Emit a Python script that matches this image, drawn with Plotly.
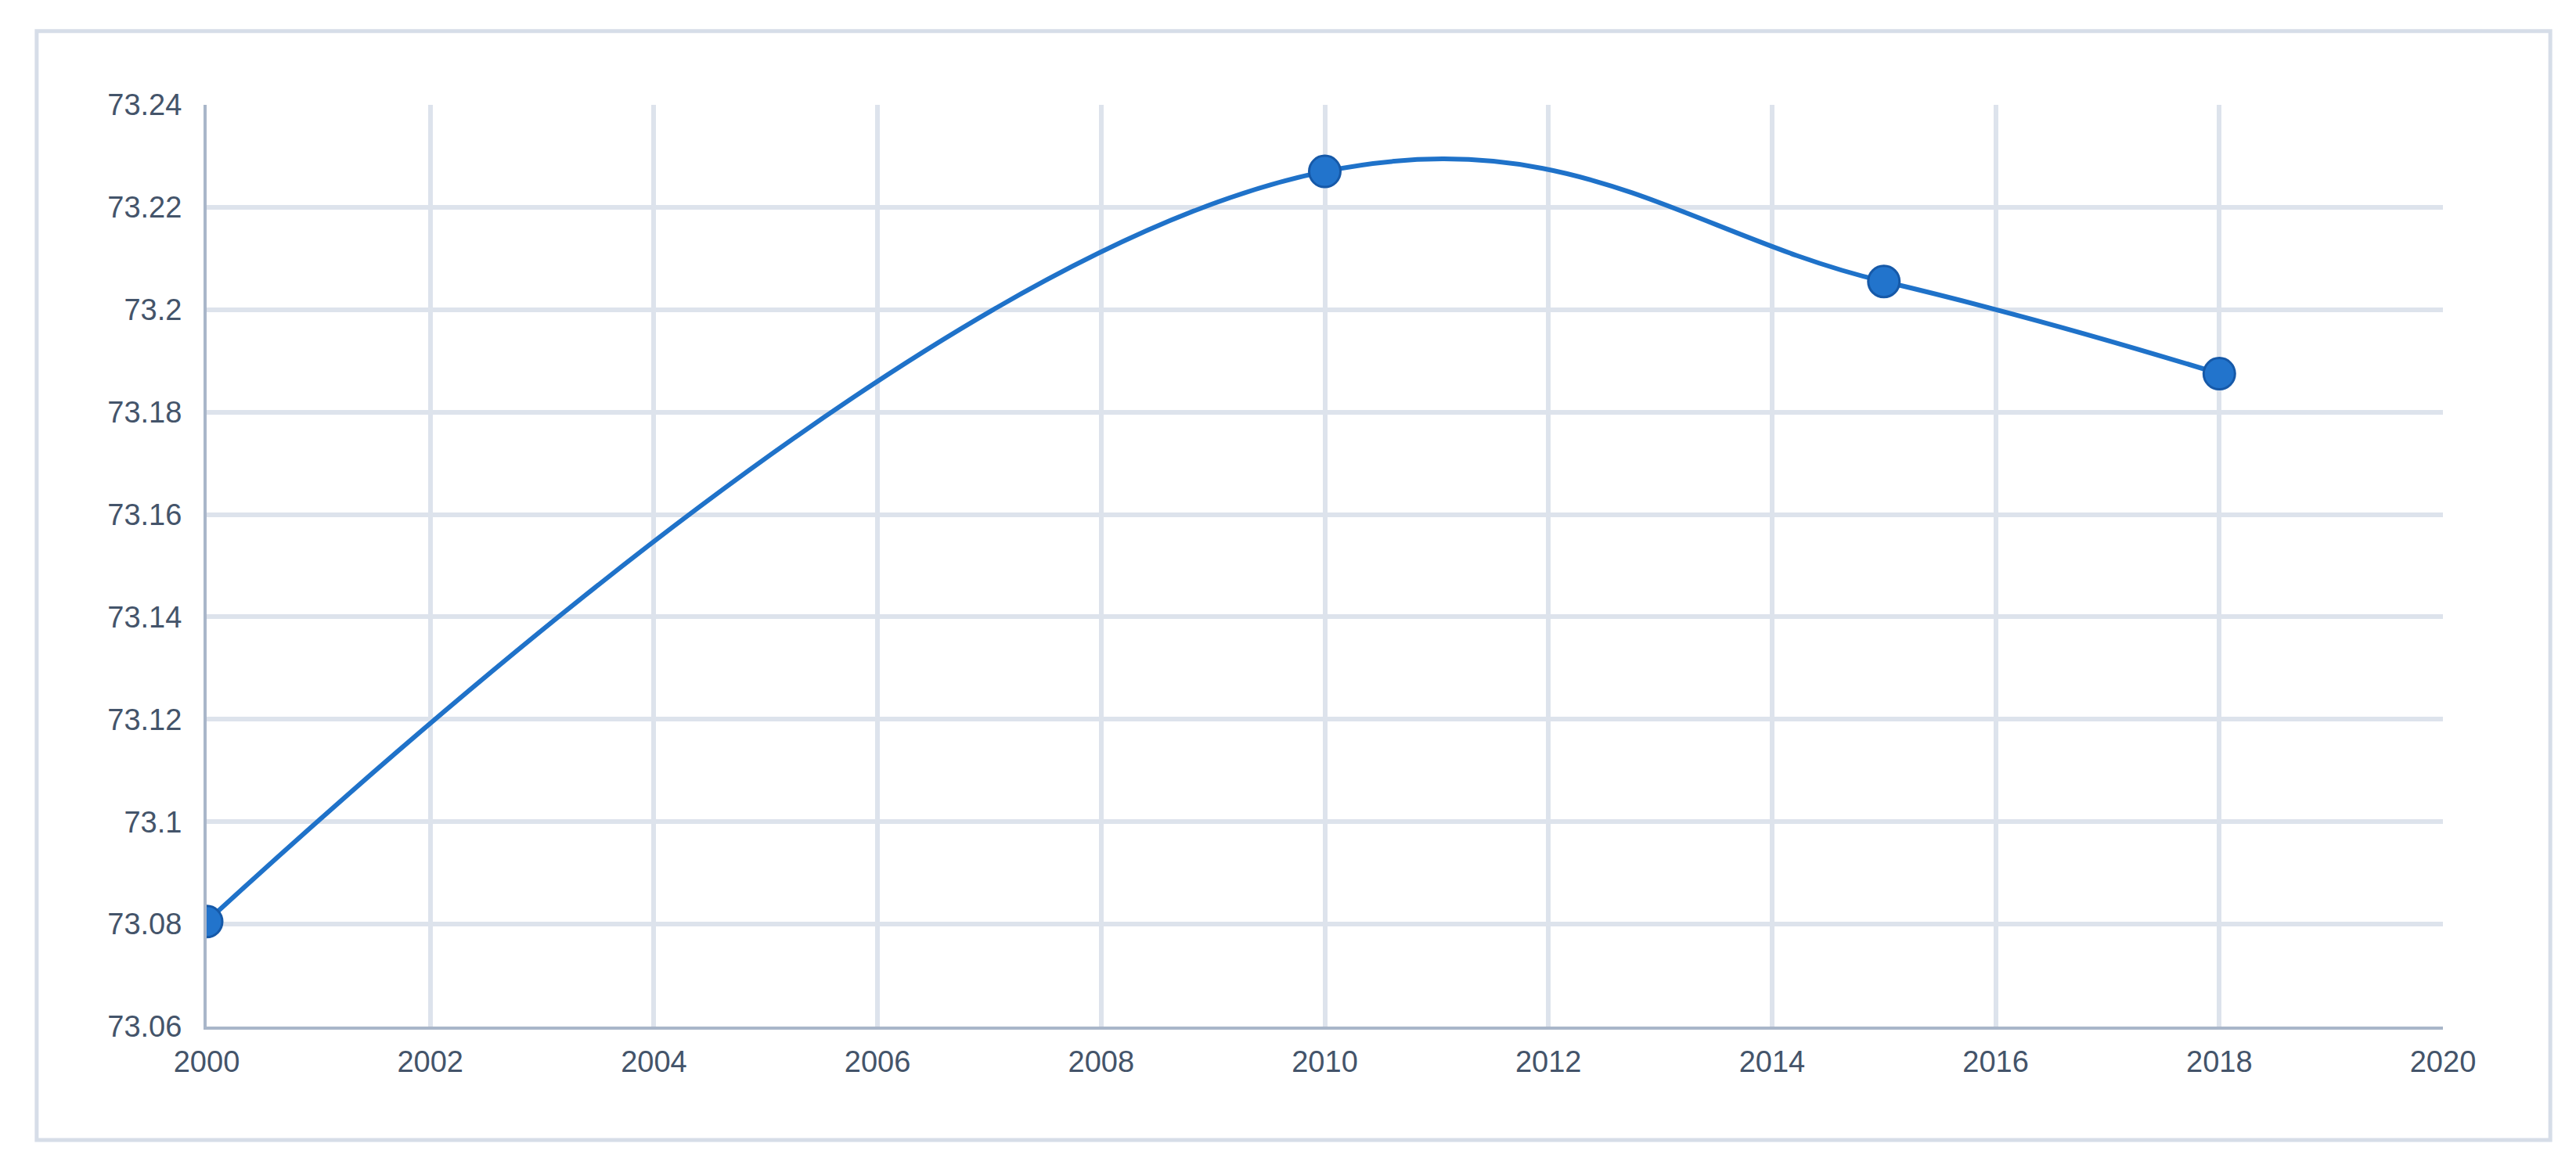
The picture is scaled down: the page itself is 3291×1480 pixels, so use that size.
import plotly.graph_objects as go

years = [2000, 2010, 2015, 2018]
values = [73.0805, 73.227, 73.2055, 73.1875]
x_ticks = list(range(2000, 2021, 2))
y_ticks = [73.06, 73.08, 73.1, 73.12, 73.14, 73.16, 73.18, 73.2, 73.22, 73.24]

fig = go.Figure()
fig.add_trace(go.Scatter(
    x=years, y=values, mode="lines+markers",
    line=dict(color="#1f72c9", width=6, shape="spline", smoothing=1.2),
    marker=dict(size=40, color="#2274cc", line=dict(color="#1659a8", width=3)),
))
font = dict(family="Liberation Sans", size=38, color="#44546a")
fig.update_layout(
    width=3291, height=1480, paper_bgcolor="white", plot_bgcolor="white",
    margin=dict(l=256, r=178, t=126, b=176),
    showlegend=False, font=font,
    shapes=[dict(type="rect", xref="paper", yref="paper", x0=-0.076, x1=1.048, y0=-0.123, y1=1.08,
                 line=dict(color="#d6dde8", width=5))],
)
fig.update_xaxes(range=[2000, 2020], tickvals=x_ticks, showgrid=True, gridcolor="#dde3ec", gridwidth=6,
                 showline=True, linecolor="#a9b6c9", linewidth=4, zeroline=False, ticks="", tickfont=font,
                 ticklabelstandoff=8)
fig.update_yaxes(range=[73.06, 73.24], tickvals=y_ticks, ticktext=[str(v) for v in y_ticks],
                 showgrid=True, gridcolor="#dde3ec", gridwidth=6,
                 showline=True, linecolor="#a9b6c9", linewidth=4, zeroline=False, ticks="", tickfont=font,
                 ticklabelstandoff=20)
fig.write_html("out.html")
